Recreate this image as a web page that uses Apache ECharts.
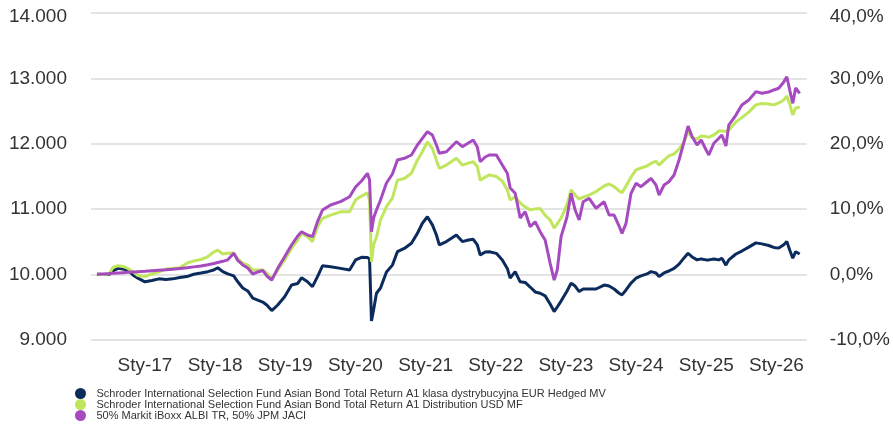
<!DOCTYPE html>
<html>
<head>
<meta charset="utf-8">
<script src="https://cdn.jsdelivr.net/npm/echarts@6/dist/echarts.min.js"></script>
<style>
  html, body { margin: 0; padding: 0; background: #ffffff; }
  #chart { width: 893px; height: 442px; }
</style>
</head>
<body>
<div id="chart"></div>
<script>
// ---- Data ----
const dates = [
  '2016-04-26','2016-05-27','2016-06-28','2016-07-18','2016-08-13','2016-09-08','2016-10-04','2016-10-30','2016-11-25',
  '2017-01-01','2017-02-06','2017-03-14','2017-04-20','2017-05-26','2017-07-01','2017-08-07','2017-09-12','2017-10-19','2017-11-24','2017-12-25',
  '2018-01-15','2018-02-10','2018-03-08','2018-04-08','2018-04-29','2018-05-25','2018-06-20','2018-07-16','2018-08-11','2018-09-06','2018-09-27','2018-10-23','2018-11-23','2018-12-29',
  '2019-02-03','2019-03-07','2019-03-27','2019-04-27','2019-05-23','2019-06-18','2019-07-14','2019-08-25','2019-10-16','2019-12-02',
  '2020-01-02','2020-02-02','2020-03-04','2020-03-15','2020-03-25','2020-04-05','2020-04-20','2020-05-11','2020-06-11','2020-07-12','2020-08-07','2020-09-12','2020-10-19','2020-11-19','2020-12-15',
  '2021-01-10','2021-02-05','2021-02-26','2021-03-13','2021-04-19','2021-06-10','2021-07-11','2021-08-11','2021-09-06','2021-09-27','2021-10-12','2021-11-07','2021-11-28',
  '2022-01-04','2022-02-04','2022-03-02','2022-03-17','2022-04-12','2022-05-08','2022-06-03','2022-06-29','2022-07-25','2022-08-20','2022-09-15','2022-10-11','2022-11-01','2022-11-17','2022-12-07',
  '2023-01-07','2023-01-28','2023-02-18','2023-03-11','2023-04-01','2023-05-02','2023-06-07','2023-07-19','2023-08-14','2023-09-09','2023-10-05','2023-10-20','2023-11-10','2023-12-06',
  '2024-01-01','2024-01-27','2024-02-27','2024-03-19','2024-04-14','2024-04-30','2024-05-26','2024-06-20','2024-07-17','2024-08-12','2024-09-07','2024-09-28','2024-10-19','2024-11-14','2024-12-05','2024-12-31',
  '2025-01-14','2025-02-09','2025-03-07','2025-03-23','2025-04-13','2025-04-28','2025-06-04','2025-07-05','2025-08-10','2025-09-16','2025-10-17','2025-11-22','2025-12-18',
  '2026-01-13','2026-02-08','2026-02-24','2026-03-11','2026-03-27','2026-04-11','2026-05-02'
];

const fundEUR = [
  10005,10000,10000,10055,10095,10085,10070,9995,9945,
  9890,9910,9935,9925,9935,9955,9970,10005,10025,10045,10070,
  10105,10045,10010,9980,9890,9795,9750,9640,9610,9580,9535,9450,9535,9660,
  9840,9865,9950,9890,9815,9970,10135,10120,10095,10070,
  10225,10265,10260,10240,9290,9460,9715,9795,10040,10145,10350,10400,10480,10630,10785,
  10885,10760,10605,10455,10505,10605,10505,10530,10540,10455,10300,10345,10350,
  10325,10225,10095,9945,10045,9890,9880,9810,9735,9715,9675,9550,9435,9505,9595,
  9750,9870,9825,9740,9780,9780,9780,9840,9825,9780,9715,9690,9765,9870,
  9945,9980,10010,10045,10025,9970,10025,10055,10095,10160,10255,10325,10270,10225,10240,10225,
  10225,10240,10225,10250,10145,10225,10315,10360,10420,10485,10470,10445,10415,
  10405,10455,10505,10375,10250,10350,10315
];

const fundUSD = [
  10005,10000,10010,10110,10135,10125,10095,10045,9985,
  9970,10010,10040,10085,10095,10105,10175,10210,10230,10275,10345,
  10375,10315,10325,10330,10240,10175,10145,10070,10070,10070,10025,9940,10070,10225,
  10400,10530,10630,10580,10505,10730,10860,10910,10960,10960,
  11140,11200,11250,11140,10195,10455,10575,10835,11040,11170,11445,11470,11550,11750,11880,
  12030,11930,11750,11625,11675,11780,11675,11705,11725,11650,11445,11490,11525,
  11500,11430,11295,11140,11190,11095,11035,10990,11005,11010,10910,10835,10710,10775,10865,
  11065,11295,11215,11155,11185,11215,11270,11355,11385,11345,11280,11250,11355,11490,
  11600,11630,11660,11700,11735,11675,11750,11815,11845,11920,12030,12185,12095,12075,12120,12110,
  12100,12135,12195,12195,12190,12210,12335,12400,12485,12595,12615,12610,12595,
  12625,12670,12730,12610,12440,12545,12565
];

const benchmark = [
  10005,10010,10015,10020,10025,10030,10035,10040,10045,
  10050,10058,10066,10073,10083,10093,10105,10118,10131,10150,10170,
  10185,10203,10226,10326,10216,10147,10101,10009,10040,10063,9979,9917,10096,10274,
  10453,10590,10656,10605,10580,10809,10988,11064,11115,11191,
  11339,11431,11549,11446,10656,10865,10988,11141,11401,11538,11752,11778,11829,11982,12084,
  12185,12134,11982,11855,11879,12032,11956,12012,12058,11951,11726,11798,11829,
  11829,11676,11549,11324,11243,10865,10962,10732,10809,10656,10529,10173,9917,10070,10580,
  10885,11243,10988,10835,11115,11167,11014,11115,10911,10911,10743,10631,10784,11243,
  11396,11344,11420,11472,11370,11217,11370,11420,11523,11752,12032,12272,12108,11982,12058,11905,
  11829,12008,12084,12134,11966,12287,12440,12593,12670,12797,12772,12792,12823,
  12849,12945,13026,12823,12619,12853,12772
];

const seriesNames = [
  'Schroder International Selection Fund Asian Bond Total Return A1 klasa dystrybucyjna EUR Hedged MV',
  'Schroder International Selection Fund Asian Bond Total Return A1 Distribution USD MF',
  '50% Markit iBoxx ALBI TR, 50% JPM JACI'
];

const tickDates = ['2017-01-01','2018-01-01','2019-01-01','2020-01-01','2021-01-01','2022-01-01','2023-01-01','2024-01-01','2025-01-01','2026-01-01'];
const tickLabels = ['Sty-17','Sty-18','Sty-19','Sty-20','Sty-21','Sty-22','Sty-23','Sty-24','Sty-25','Sty-26'];
const axisStart = '2016-03-26';
const axisEnd = '2026-06-08';

// ---- Chart ----
const colors = ['#0b2b5c', '#bfe65c', '#a64bbf'];
const ts = s => Date.parse(s + 'T00:00:00Z');
const tickValues = tickDates.map(ts);
const pairs = arr => dates.map((d, i) => [ts(d), arr[i]]);
const FONT = "'Liberation Sans', Arial, sans-serif";
const topRich = { t: { fontFamily: FONT, fontSize: 19, color: '#333333', padding: [7, 0, 0, 0] } };

const chart = echarts.init(document.getElementById('chart'), null, { renderer: 'canvas' });
chart.setOption({
  animation: false,
  backgroundColor: '#ffffff',
  color: colors,
  grid: { left: 91, right: 85, top: 13, bottom: 102, containLabel: false },
  legend: {
    orient: 'vertical',
    left: 75,
    top: 388,
    padding: 0,
    itemWidth: 22,
    itemHeight: 11,
    itemGap: 0,
    icon: 'circle',
    data: seriesNames,
    textStyle: {
      fontFamily: FONT,
      fontSize: 11,
      lineHeight: 11,
      color: '#333333'
    }
  },
  xAxis: {
    type: 'value',
    min: ts(axisStart),
    max: ts(axisEnd),
    axisLine: { show: false },
    axisTick: { show: false },
    splitLine: { show: false },
    axisLabel: {
      customValues: tickValues,
      showMinLabel: true,
      showMaxLabel: true,
      margin: 16,
      fontFamily: FONT,
      fontSize: 19,
      color: '#333333',
      formatter: function (v) {
        const i = tickValues.indexOf(v);
        return i >= 0 ? tickLabels[i] : '';
      }
    }
  },
  yAxis: [
    {
      type: 'value',
      min: 9000,
      max: 14000,
      interval: 1000,
      axisLine: { show: false },
      axisTick: { show: false },
      splitLine: { lineStyle: { color: '#e4e4e4', width: 2 } },
      axisLabel: {
        margin: 24,
        fontFamily: FONT,
        fontSize: 19,
        color: '#333333',
        rich: topRich,
        formatter: v => {
          const s = String(v).replace(/\B(?=(\d{3})+(?!\d))/g, '.');
          return v === 14000 ? '{t|' + s + '}' : s;
        }
      }
    },
    {
      type: 'value',
      min: -10,
      max: 40,
      interval: 10,
      position: 'right',
      axisLine: { show: false },
      axisTick: { show: false },
      splitLine: { show: false },
      axisLabel: {
        margin: 23,
        fontFamily: FONT,
        fontSize: 19,
        color: '#333333',
        rich: topRich,
        formatter: v => {
          const s = v.toFixed(1).replace('.', ',') + '%';
          return v === 40 ? '{t|' + s + '}' : s;
        }
      }
    }
  ],
  series: [
    { name: seriesNames[0], type: 'line', yAxisIndex: 0, data: pairs(fundEUR), showSymbol: false, lineStyle: { width: 3 }, z: 2 },
    { name: seriesNames[1], type: 'line', yAxisIndex: 0, data: pairs(fundUSD), showSymbol: false, lineStyle: { width: 3 }, z: 3 },
    { name: seriesNames[2], type: 'line', yAxisIndex: 0, data: pairs(benchmark), showSymbol: false, lineStyle: { width: 3 }, z: 4 }
  ]
});
</script>
</body>
</html>
